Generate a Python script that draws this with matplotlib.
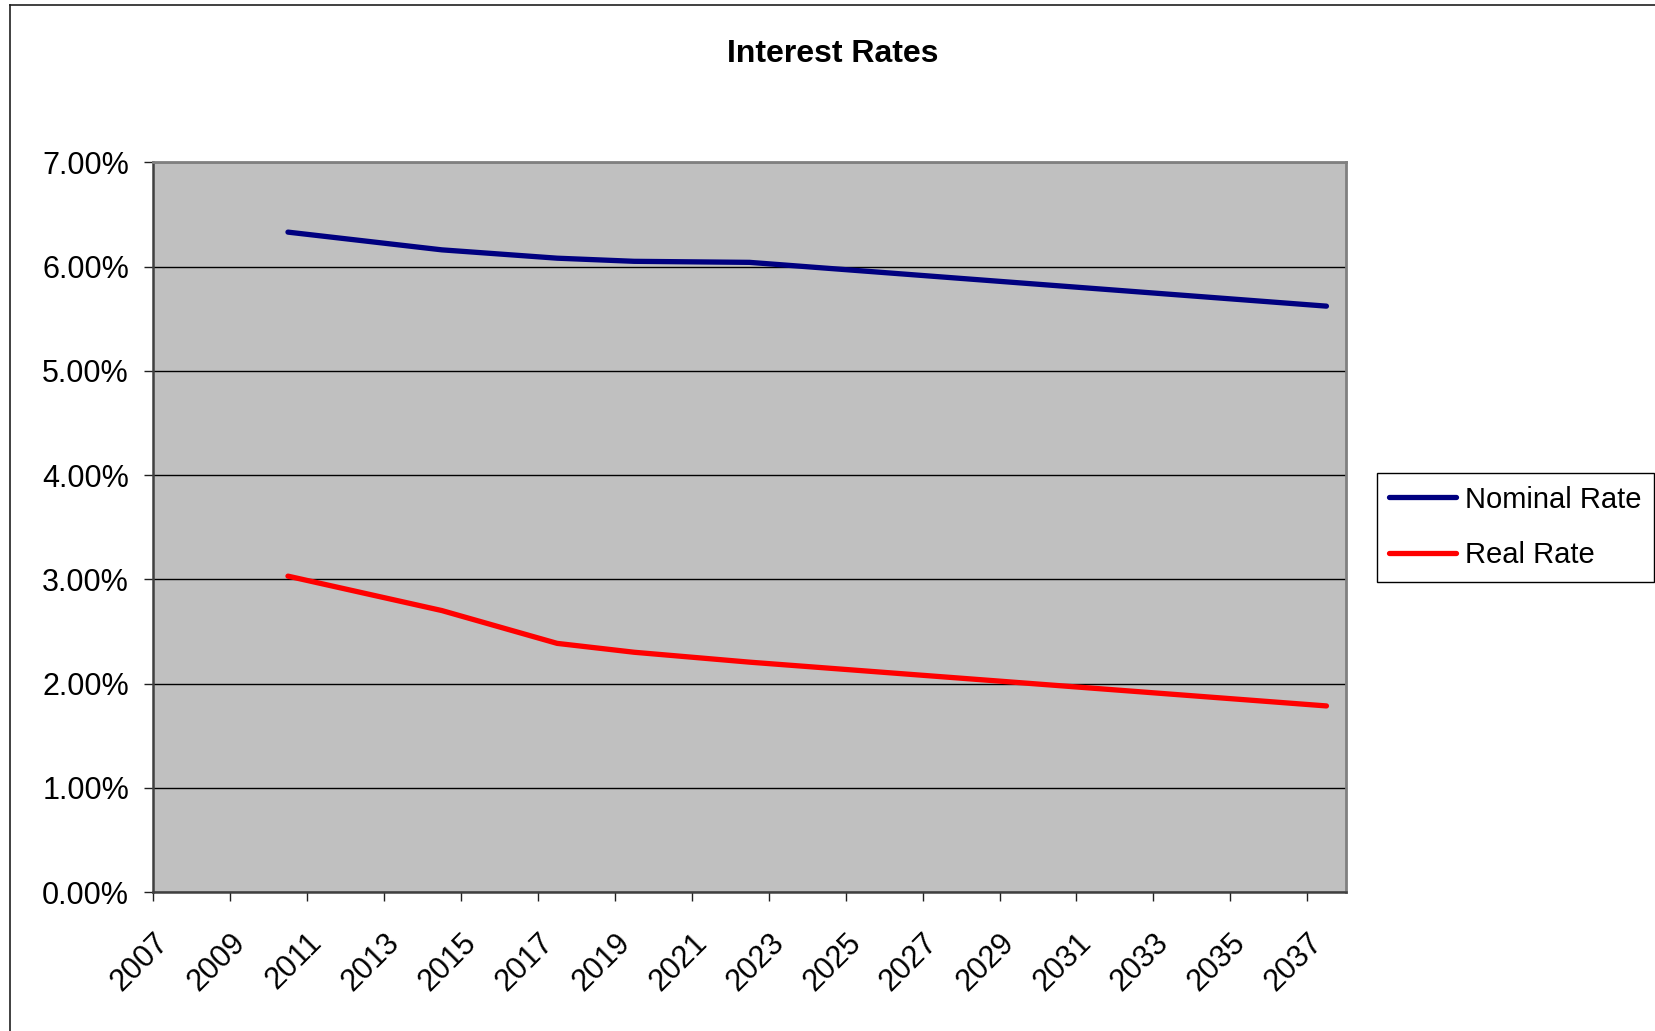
import matplotlib
matplotlib.use("Agg")
import matplotlib.pyplot as plt
from matplotlib.lines import Line2D
from matplotlib.ticker import PercentFormatter
import numpy as np

plt.rcParams["font.family"] = ["Liberation Sans", "DejaVu Sans"]

# categories on the x axis (one slot per year)
first_year = 2007
last_year = 2037
tick_years = list(range(first_year, last_year + 1, 2))

# rates in percent at the years where the slope changes
years = [2010, 2014, 2017, 2019, 2022, 2037]
nominal_rate = [6.33, 6.16, 6.08, 6.05, 6.04, 5.62]
real_rate = [3.03, 2.70, 2.385, 2.30, 2.205, 1.785]

fig = plt.figure(figsize=(16.56, 10.31), dpi=100)
ax = fig.add_axes([0.0926, 0.1348, 0.8126 - 0.0926, 0.8426 - 0.1348])
ax.set_facecolor("#C0C0C0")

x = np.array(years) - first_year
ax.plot(x, nominal_rate, color="#000080", lw=3.8, solid_capstyle="round",
        solid_joinstyle="round", label="Nominal Rate")
ax.plot(x, real_rate, color="#FF0000", lw=3.8, solid_capstyle="round",
        solid_joinstyle="round", label="Real Rate")

ax.set_xlim(-0.5, last_year - first_year + 0.5)
ax.set_ylim(0, 7)
ax.set_yticks(np.arange(0, 7.01, 1))
ax.yaxis.set_major_formatter(PercentFormatter(xmax=100, decimals=2))
ax.set_xticks(np.array(tick_years) - first_year - 0.5)
ax.set_xticklabels([str(y) for y in tick_years], rotation=45, ha="right",
                   va="top", rotation_mode="anchor", fontsize=22)
for lbl in ax.get_yticklabels():
    lbl.set_fontsize(22)

ax.grid(axis="y", color="black", lw=1)
ax.set_axisbelow(True)
ax.tick_params(axis="both", direction="out", length=6.5, width=1,
               color="#202020")
ax.tick_params(axis="x", pad=19)
ax.tick_params(axis="y", pad=11)

for side in ["top", "right"]:
    ax.spines[side].set_color("#808080")
    ax.spines[side].set_linewidth(2)
for side in ["left", "bottom"]:
    ax.spines[side].set_color("#404040")
    ax.spines[side].set_linewidth(1.8)

fig.text(0.503, 1 - 62.3 / 1031, "Interest Rates", ha="center", va="baseline",
         fontsize=23, fontweight="bold")

leg = ax.legend(loc="upper left", bbox_to_anchor=(1376.7 / 1656, 1 - 473.3 / 1031),
                bbox_transform=fig.transFigure, borderaxespad=0, fontsize=21,
                frameon=True, fancybox=False, framealpha=1, edgecolor="black",
                borderpad=0.42, labelspacing=0.95, handlelength=2.3,
                handletextpad=0.3)
leg.get_frame().set_linewidth(1)

# chart area border (left and top edges visible in the original)
fig.add_artist(Line2D([9.5 / 1656, 9.5 / 1656], [0, 1 - 4.7 / 1031],
                      color="#202020", lw=1.2, transform=fig.transFigure))
fig.add_artist(Line2D([9.5 / 1656, 1], [1 - 4.7 / 1031, 1 - 4.7 / 1031],
                      color="#202020", lw=1.2, transform=fig.transFigure))

fig.savefig("out.png", dpi=100)
